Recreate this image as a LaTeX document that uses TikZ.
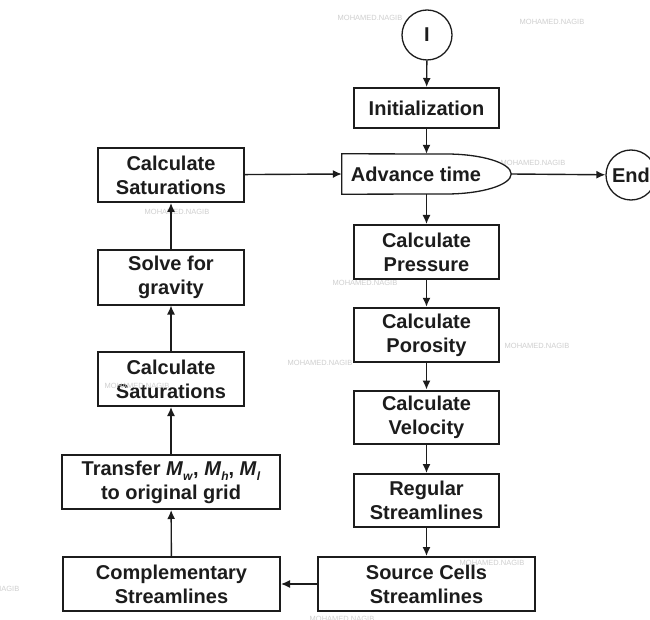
\documentclass[tikz,border=0pt]{standalone}
\usepackage{fontspec}
\setmainfont{Liberation Sans}
\usetikzlibrary{arrows.meta}

\definecolor{ink}{HTML}{1C1C1C}
\definecolor{mark}{HTML}{CFCFCF}

% subscripted bold-italic symbol used in the transfer box
\newcommand{\msym}[1]{\textit{M}\raisebox{-0.28em}{\fontsize{12}{12}\selectfont\textit{#1}}}

\tikzset{
  procbox/.style={draw=ink, line width=2pt, fill=white, inner sep=0pt,
    align=center, text=ink, font=\fontsize{20}{24}\selectfont\bfseries},
  termcirc/.style={draw=ink, line width=1.3pt, fill=white, circle, inner sep=0pt,
    minimum size=50pt, text=ink, font=\fontsize{20}{24}\selectfont\bfseries},
  flow/.style={draw=ink, line width=1.4pt, -{Latex[length=9pt,width=8pt]}},
  wmark/.style={text=mark, inner sep=0pt, font=\fontsize{7.5}{8}\selectfont}
}

\begin{document}
\begin{tikzpicture}[x=1pt,y=-1pt]
\useasboundingbox (0,0) rectangle (650,620);
\clip (0,0) rectangle (650,620);
\fill[white] (0,0) rectangle (650,620);

% faint watermark lettering (behind the shapes)
\foreach \px/\py in {370/18, 552/22, 533/163, 177/212, 365/283, 537/346, 320/363, -13/589, 342/619}
  \node[wmark] at (\px,\py) {MOHAMED.NAGIB};

% right column
\node[termcirc] (start) at (427,35) {I};
\node[procbox, minimum width=145pt, minimum height=40pt] (init) at (426.5,108) {Initialization};

% "Advance time": box with a half-elliptical right end
\node[inner sep=0pt, minimum width=169pt, minimum height=40pt] (adv) at (426.5,174) {};
\draw[ink, line width=1.3pt, fill=white]
  (adv.north west) -- (446,154)
  .. controls (481.9,154) and (511,163) .. (adv.east)
  .. controls (511,185) and (481.9,194) .. (446,194)
  -- (adv.south west) -- cycle;
\node[text=ink, font=\fontsize{20}{24}\selectfont\bfseries] (advtext) at (416,174) {Advance time};

\node[termcirc] (end) at (631,175) {End};

\node[procbox, minimum width=145pt, minimum height=54pt] (press) at (426.5,252) {Calculate\\Pressure};
\node[procbox, line width=2.5pt, minimum width=145pt, minimum height=54pt] (poro) at (426.5,335) {Calculate\\Porosity};
\node[procbox, minimum width=145pt, minimum height=53pt] (velo) at (426.5,417) {Calculate\\Velocity};
\node[procbox, minimum width=145pt, minimum height=53pt] (reg) at (426.5,500.5) {Regular\\Streamlines};
\node[procbox, minimum width=217pt, minimum height=54pt] (src) at (426.5,584) {Source Cells\\Streamlines};

% left column
\node[procbox, minimum width=217pt, minimum height=54pt] (comp) at (171.5,584) {Complementary\\Streamlines};
\node[procbox, minimum width=218pt, minimum height=54pt] (xfer) at (171,482)
  {Transfer \msym{w}, \msym{h}, \msym{l}\\to original grid};
\node[procbox, minimum width=146pt, minimum height=54pt] (sat2) at (171,379) {Calculate\\Saturations};
\node[procbox, minimum width=146pt, minimum height=54pt] (grav) at (171,277.5) {Solve for\\gravity};
\node[procbox, minimum width=146pt, minimum height=54pt] (sat1) at (171,175) {Calculate\\Saturations};

% watermark lettering lying over two of the boxes
\node[wmark] at (492,563) {MOHAMED.NAGIB};
\node[wmark] at (137,386) {MOHAMED.NAGIB};

% connectors
\draw[flow] (start) -- (init);
\draw[flow] (init) -- (adv.north);
\draw[flow] (adv.south) -- (press);
\draw[flow] (press) -- (poro);
\draw[flow] (poro) -- (velo);
\draw[flow] (velo) -- (reg);
\draw[flow] (reg) -- (src);
\draw[flow] (src) -- (comp);
\draw[flow] (comp) -- (xfer);
\draw[flow] (xfer) -- (sat2);
\draw[flow] (sat2) -- (grav);
\draw[flow] (grav) -- (sat1);
\draw[flow] (sat1) -- (adv.west);
\draw[flow] (adv.east) -- (end);
\end{tikzpicture}
\end{document}
